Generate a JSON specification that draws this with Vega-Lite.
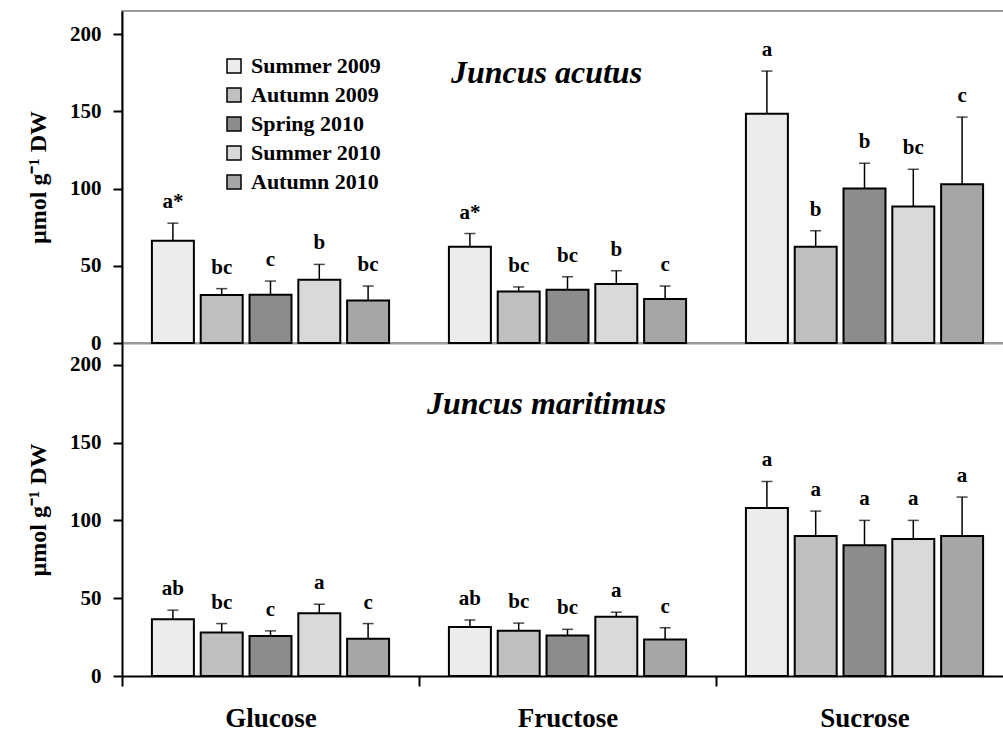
{
  "$schema": "https://vega.github.io/schema/vega-lite/v6.json",
  "padding": {"left": 25, "top": 10, "right": 0, "bottom": 0},
  "background": "white",
  "datasets": {
    "d": [
      {"panel": "acutus", "sugar": "Glucose", "season": "Summer 2009", "mean": 66.2, "upper": 77.6, "letter": "a*"},
      {"panel": "acutus", "sugar": "Glucose", "season": "Autumn 2009", "mean": 31.1, "upper": 35.2, "letter": "bc"},
      {"panel": "acutus", "sugar": "Glucose", "season": "Spring 2010", "mean": 31.3, "upper": 40.1, "letter": "c"},
      {"panel": "acutus", "sugar": "Glucose", "season": "Summer 2010", "mean": 41.0, "upper": 50.9, "letter": "b"},
      {"panel": "acutus", "sugar": "Glucose", "season": "Autumn 2010", "mean": 27.6, "upper": 36.9, "letter": "bc"},
      {"panel": "acutus", "sugar": "Fructose", "season": "Summer 2009", "mean": 62.3, "upper": 70.9, "letter": "a*"},
      {"panel": "acutus", "sugar": "Fructose", "season": "Autumn 2009", "mean": 33.4, "upper": 36.3, "letter": "bc"},
      {"panel": "acutus", "sugar": "Fructose", "season": "Spring 2010", "mean": 34.5, "upper": 42.9, "letter": "bc"},
      {"panel": "acutus", "sugar": "Fructose", "season": "Summer 2010", "mean": 38.2, "upper": 46.8, "letter": "b"},
      {"panel": "acutus", "sugar": "Fructose", "season": "Autumn 2010", "mean": 28.5, "upper": 36.9, "letter": "c"},
      {"panel": "acutus", "sugar": "Sucrose", "season": "Summer 2009", "mean": 148.5, "upper": 176.1, "letter": "a"},
      {"panel": "acutus", "sugar": "Sucrose", "season": "Autumn 2009", "mean": 62.3, "upper": 72.7, "letter": "b"},
      {"panel": "acutus", "sugar": "Sucrose", "season": "Spring 2010", "mean": 100.0, "upper": 116.4, "letter": "b"},
      {"panel": "acutus", "sugar": "Sucrose", "season": "Summer 2010", "mean": 88.4, "upper": 112.5, "letter": "bc"},
      {"panel": "acutus", "sugar": "Sucrose", "season": "Autumn 2010", "mean": 102.8, "upper": 146.3, "letter": "c"},
      {"panel": "maritimus", "sugar": "Glucose", "season": "Summer 2009", "mean": 36.5, "upper": 42.3, "letter": "ab"},
      {"panel": "maritimus", "sugar": "Glucose", "season": "Autumn 2009", "mean": 27.9, "upper": 33.7, "letter": "bc"},
      {"panel": "maritimus", "sugar": "Glucose", "season": "Spring 2010", "mean": 25.7, "upper": 29.0, "letter": "c"},
      {"panel": "maritimus", "sugar": "Glucose", "season": "Summer 2010", "mean": 40.3, "upper": 46.1, "letter": "a"},
      {"panel": "maritimus", "sugar": "Glucose", "season": "Autumn 2010", "mean": 24.0, "upper": 33.7, "letter": "c"},
      {"panel": "maritimus", "sugar": "Fructose", "season": "Summer 2009", "mean": 31.5, "upper": 36.0, "letter": "ab"},
      {"panel": "maritimus", "sugar": "Fructose", "season": "Autumn 2009", "mean": 29.0, "upper": 34.0, "letter": "bc"},
      {"panel": "maritimus", "sugar": "Fructose", "season": "Spring 2010", "mean": 26.0, "upper": 30.0, "letter": "bc"},
      {"panel": "maritimus", "sugar": "Fructose", "season": "Summer 2010", "mean": 38.0, "upper": 41.0, "letter": "a"},
      {"panel": "maritimus", "sugar": "Fructose", "season": "Autumn 2010", "mean": 23.5, "upper": 31.0, "letter": "c"},
      {"panel": "maritimus", "sugar": "Sucrose", "season": "Summer 2009", "mean": 108.0, "upper": 125.0, "letter": "a"},
      {"panel": "maritimus", "sugar": "Sucrose", "season": "Autumn 2009", "mean": 90.0, "upper": 106.0, "letter": "a"},
      {"panel": "maritimus", "sugar": "Sucrose", "season": "Spring 2010", "mean": 84.0, "upper": 100.0, "letter": "a"},
      {"panel": "maritimus", "sugar": "Sucrose", "season": "Summer 2010", "mean": 88.0, "upper": 100.0, "letter": "a"},
      {"panel": "maritimus", "sugar": "Sucrose", "season": "Autumn 2010", "mean": 90.0, "upper": 115.0, "letter": "a"}
    ]
  },
  "config": {
    "font": "Liberation Serif",
    "view": {"stroke": null},
    "axis": {
      "labelFont": "Liberation Serif", "labelFontWeight": "bold", "labelColor": "black",
      "titleFont": "Liberation Serif", "titleColor": "black",
      "domainColor": "black", "tickColor": "black", "domainWidth": 2, "tickWidth": 2, "grid": false
    }
  },
  "spacing": 0,
  "bounds": "flush",
  "resolve": {"legend": {"fill": "independent"}},
  "vconcat": [
    {
      "width": 891,
      "height": 332,
      "view": {"stroke": "#9a9a9a", "strokeWidth": 2},
      "title": {"text": "Juncus acutus", "font": "Liberation Serif", "fontSize": 32, "fontStyle": "italic", "fontWeight": "bold", "color": "black", "anchor": "middle", "frame": "group", "orient": "top", "offset": -104, "baseline": "alphabetic", "dx": -21},
      "data": {"name": "d"},
      "transform": [{"filter": "datum.panel == 'acutus'"}],
      "encoding": {
        "x": {"field": "sugar", "type": "nominal", "sort": ["Glucose", "Fructose", "Sucrose"], "scale": {"paddingInner": 0, "paddingOuter": 0}, "axis": {"title": null, "labels": false, "ticks": false, "domainColor": "#9a9a9a"}},
        "xOffset": {"field": "season", "type": "nominal", "sort": ["Summer 2009", "Autumn 2009", "Spring 2010", "Summer 2010", "Autumn 2010"], "scale": {"paddingInner": 0.14, "paddingOuter": 0.613}}
      },
      "layer": [
        {
          "mark": {"type": "rule", "color": "black", "strokeWidth": 1.5},
          "encoding": {
            "y": {"field": "mean", "type": "quantitative", "title": "µmol g⁻¹ DW", "scale": {"domain": [0, 215], "nice": false}, "axis": {"values": [0, 50, 100, 150, 200], "tickSize": 9, "labelPadding": 12, "labelFontSize": 21, "titleFontSize": 24, "titleFontWeight": "bold", "titlePadding": 19}},
            "y2": {"field": "upper"}
          }
        },
        {
          "mark": {"type": "tick", "color": "black", "thickness": 1.5, "size": 11},
          "encoding": {"y": {"field": "upper", "type": "quantitative", "title": "µmol g⁻¹ DW", "scale": {"domain": [0, 215], "nice": false}}}
        },
        {
          "mark": {"type": "bar", "stroke": "black", "strokeWidth": 2},
          "encoding": {
            "y": {"field": "mean", "type": "quantitative", "title": "µmol g⁻¹ DW", "scale": {"domain": [0, 215], "nice": false}},
            "fill": {"field": "season", "type": "nominal", "sort": ["Summer 2009", "Autumn 2009", "Spring 2010", "Summer 2010", "Autumn 2010"],
              "scale": {"domain": ["Summer 2009", "Autumn 2009", "Spring 2010", "Summer 2010", "Autumn 2010"], "range": ["#ececec", "#bfbfbf", "#8c8c8c", "#d9d9d9", "#a6a6a6"]},
              "legend": {"orient": "none", "legendX": 101, "legendY": 44, "title": null, "padding": 0, "symbolType": "square", "symbolSize": 196, "symbolStrokeColor": "black", "symbolStrokeWidth": 1.5, "labelFont": "Liberation Serif", "labelFontSize": 22, "labelFontWeight": "bold", "labelColor": "black", "labelOffset": 6, "rowPadding": 7}}
          }
        },
        {
          "mark": {"type": "text", "baseline": "alphabetic", "dy": -15, "fontSize": 21, "fontWeight": "bold", "font": "Liberation Serif", "color": "black"},
          "encoding": {
            "y": {"field": "upper", "type": "quantitative", "title": "µmol g⁻¹ DW", "scale": {"domain": [0, 215], "nice": false}},
            "text": {"field": "letter"}
          }
        }
      ]
    },
    {
      "width": 891,
      "height": 333,
      "view": {"stroke": null},
      "title": {"text": "Juncus maritimus", "font": "Liberation Serif", "fontSize": 32, "fontStyle": "italic", "fontWeight": "bold", "color": "black", "anchor": "middle", "frame": "group", "orient": "top", "offset": -103, "baseline": "alphabetic", "dx": -21},
      "data": {"name": "d"},
      "transform": [{"filter": "datum.panel == 'maritimus'"}],
      "encoding": {
        "x": {"field": "sugar", "type": "nominal", "sort": ["Glucose", "Fructose", "Sucrose"], "scale": {"paddingInner": 0, "paddingOuter": 0}, "axis": {"title": null, "tickBand": "extent", "tickSize": 10, "labelFontSize": 27, "labelPadding": 32, "labelBaseline": "middle", "labelAngle": 0}},
        "xOffset": {"field": "season", "type": "nominal", "sort": ["Summer 2009", "Autumn 2009", "Spring 2010", "Summer 2010", "Autumn 2010"], "scale": {"paddingInner": 0.14, "paddingOuter": 0.613}}
      },
      "layer": [
        {
          "mark": {"type": "rule", "color": "black", "strokeWidth": 1.5},
          "encoding": {
            "y": {"field": "mean", "type": "quantitative", "title": "µmol g⁻¹ DW", "scale": {"domain": [0, 214], "nice": false}, "axis": {"values": [0, 50, 100, 150, 200], "tickSize": 9, "labelPadding": 12, "labelFontSize": 21, "titleFontSize": 24, "titleFontWeight": "bold", "titlePadding": 19}},
            "y2": {"field": "upper"}
          }
        },
        {
          "mark": {"type": "tick", "color": "black", "thickness": 1.5, "size": 11},
          "encoding": {"y": {"field": "upper", "type": "quantitative", "title": "µmol g⁻¹ DW", "scale": {"domain": [0, 214], "nice": false}}}
        },
        {
          "mark": {"type": "bar", "stroke": "black", "strokeWidth": 2},
          "encoding": {
            "y": {"field": "mean", "type": "quantitative", "title": "µmol g⁻¹ DW", "scale": {"domain": [0, 214], "nice": false}},
            "fill": {"field": "season", "type": "nominal", "sort": ["Summer 2009", "Autumn 2009", "Spring 2010", "Summer 2010", "Autumn 2010"],
              "scale": {"domain": ["Summer 2009", "Autumn 2009", "Spring 2010", "Summer 2010", "Autumn 2010"], "range": ["#ececec", "#bfbfbf", "#8c8c8c", "#d9d9d9", "#a6a6a6"]},
              "legend": null}
          }
        },
        {
          "mark": {"type": "text", "baseline": "alphabetic", "dy": -15, "fontSize": 21, "fontWeight": "bold", "font": "Liberation Serif", "color": "black"},
          "encoding": {
            "y": {"field": "upper", "type": "quantitative", "title": "µmol g⁻¹ DW", "scale": {"domain": [0, 214], "nice": false}},
            "text": {"field": "letter"}
          }
        }
      ]
    }
  ]
}
